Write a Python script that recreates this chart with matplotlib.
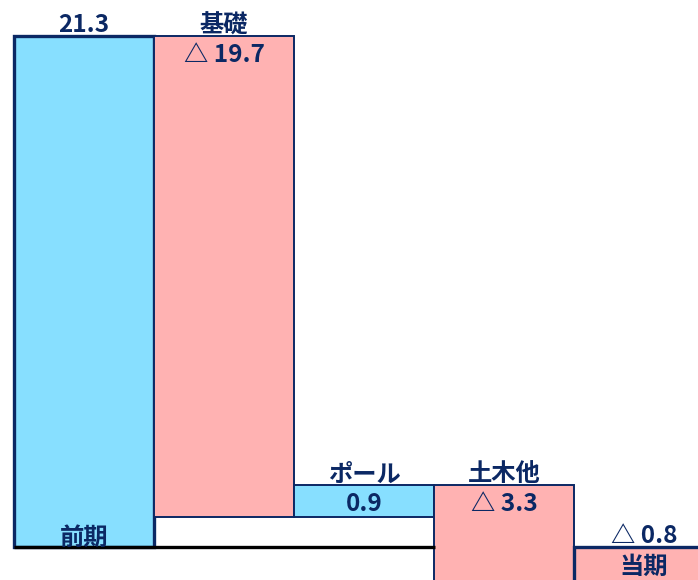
import numpy as np
import matplotlib
matplotlib.use("Agg")
import matplotlib.pyplot as plt

plt.rcParams['font.family'] = ['Noto Sans CJK JP', 'DejaVu Sans']

# categories and labels as printed on the chart
names = ['前期', '基礎', 'ポール', '土木他', '当期']
value_labels = ['21.3', '△ 19.7', '0.9', '△ 3.3', '△ 0.8']
# bar extents as drawn (chart units)
start = 21.3
changes = [-20.05, 1.33, -4.18]
end = -1.6

navy = '#0B2864'
cyan = '#87DFFF'
pink = '#FFB2B2'

levels = np.concatenate([[start], start + np.cumsum(changes)])
bottoms = [0]
heights = [start]
colors = [cyan]
for i, c in enumerate(changes):
    prev = levels[i]
    bottoms.append(prev + c if c < 0 else prev)
    heights.append(abs(c))
    colors.append(pink if c < 0 else cyan)
bottoms.append(end)
heights.append(-end)
colors.append(pink)

fig = plt.figure(figsize=(6.98, 5.80), dpi=100)
ax = fig.add_axes([0, 0, 1, 1])
x = np.arange(len(names))
lws = [2.4, 1.4, 1.4, 1.4, 2.4]
ax.bar(x, heights, bottom=bottoms, width=1.0, color=colors,
       edgecolor=navy, linewidth=lws, zorder=2)

# baseline
ax.plot([-0.5, 2.51], [0, 0], color='black', lw=2.4, zorder=3, solid_capstyle='butt')

fs = 17.5
kw = dict(color=navy, fontsize=fs, fontweight='bold', ha='center',
          textcoords='offset points')
tops = [b + h for b, h in zip(bottoms, heights)]

# 前期
ax.annotate(value_labels[0], (x[0], tops[0]), xytext=(0, -1), va='bottom', **kw)
ax.annotate(names[0], (x[0], 0), xytext=(0, -2), va='bottom', **kw)
# changes
for i in range(1, 4):
    ax.annotate(names[i], (x[i], tops[i]), xytext=(0, -1), va='bottom', **kw)
    ax.annotate(value_labels[i], (x[i], tops[i]), xytext=(0, -5), va='top', **kw)
# 当期
ax.annotate(value_labels[4], (x[4], 0), xytext=(0, -1), va='bottom', **kw)
ax.annotate(names[4], (x[4], 0), xytext=(0, -6), va='top', **kw)

ax.set_xlim(-0.6, 4.386)
ax.set_ylim(-1.375, 22.79)
ax.axis('off')

fig.savefig('out.png', dpi=100)
